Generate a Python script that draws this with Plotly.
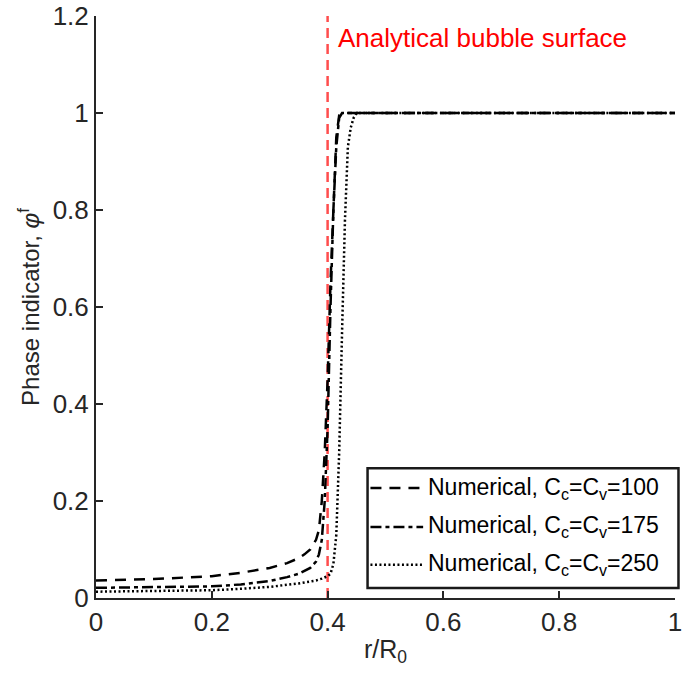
import plotly.graph_objects as go

# Radial profiles of the phase indicator for three C_c = C_v values
r_100 = [0, 0.1, 0.2, 0.25, 0.3, 0.33, 0.35, 0.36, 0.37, 0.38, 0.385, 0.39, 0.395,
         0.40, 0.405, 0.41, 0.415, 0.42, 0.425, 0.45, 0.6, 0.8, 1.0]
phi_100 = [0.036, 0.039, 0.045, 0.052, 0.062, 0.072, 0.082, 0.09, 0.10, 0.12, 0.14,
           0.2, 0.3, 0.45, 0.65, 0.82, 0.95, 0.995, 1.0, 1.0, 1.0, 1.0, 1.0]

r_175 = [0, 0.1, 0.2, 0.25, 0.3, 0.33, 0.35, 0.37, 0.38, 0.385, 0.39, 0.395, 0.40,
         0.405, 0.41, 0.415, 0.42, 0.425, 0.45, 1.0]
phi_175 = [0.021, 0.022, 0.024, 0.028, 0.035, 0.043, 0.05, 0.062, 0.075, 0.09, 0.12,
           0.2, 0.35, 0.6, 0.8, 0.93, 0.99, 1.0, 1.0, 1.0]

r_250 = [0, 0.1, 0.2, 0.25, 0.3, 0.35, 0.38, 0.39, 0.40, 0.405, 0.41, 0.415, 0.42,
         0.425, 0.43, 0.435, 0.44, 0.445, 0.45, 0.46, 1.0]
phi_250 = [0.013, 0.014, 0.016, 0.019, 0.023, 0.03, 0.036, 0.04, 0.045, 0.05, 0.07,
           0.13, 0.3, 0.55, 0.78, 0.93, 0.97, 0.99, 1.0, 1.0, 1.0]

bubble_r = 0.4
series_names = ["Numerical, C<sub>c</sub>=C<sub>v</sub>=100",
                "Numerical, C<sub>c</sub>=C<sub>v</sub>=175",
                "Numerical, C<sub>c</sub>=C<sub>v</sub>=250"]

x_ticks = [0, 0.2, 0.4, 0.6, 0.8, 1]
x_labels = ["0", "0.2", "0.4", "0.6", "0.8", "1"]
y_ticks = [0, 0.2, 0.4, 0.6, 0.8, 1, 1.2]
y_labels = ["0", "0.2", "0.4", "0.6", "0.8", "1", "1.2"]

FONT = "Liberation Sans, Arial, sans-serif"
AX = "#262626"
dash_styles = ["11px,8px", "11px,4px,4px,4px", "2px,2.5px"]

fig = go.Figure()

fig.add_trace(go.Scatter(x=[bubble_r, bubble_r], y=[0, 1.2], mode="lines",
                         line=dict(color="#ff4d4d", width=2.5, dash="10px,6px"),
                         showlegend=False, hoverinfo="skip"))

for rr, pp, name, dash in zip([r_100, r_175, r_250], [phi_100, phi_175, phi_250],
                              series_names, dash_styles):
    fig.add_trace(go.Scatter(x=rr, y=pp, mode="lines", name=name, showlegend=False,
                             line=dict(color="black", width=2.5, dash=dash)))

fig.add_annotation(x=0.414, y=1.155, xref="x", yref="y", xanchor="left",
                   yanchor="middle", text="Analytical bubble surface",
                   showarrow=False, font=dict(family=FONT, size=26, color="#ff0000"))

# Boxed key in the lower right corner (paper coordinates)
box = dict(x0=0.469, x1=1.006, y0=0.017, y1=0.223)
fig.add_shape(type="rect", xref="paper", yref="paper", **box,
              line=dict(color="#1a1a1a", width=2.5), fillcolor="white", layer="above")
row_y = [0.189, 0.122, 0.057]
for yy, name, dash in zip(row_y, series_names, dash_styles):
    fig.add_shape(type="line", xref="paper", yref="paper", x0=0.474, x1=0.565,
                  y0=yy, y1=yy, line=dict(color="black", width=2.5, dash=dash),
                  layer="above")
    fig.add_annotation(x=0.570, y=yy, xref="paper", yref="paper", xanchor="left",
                       yanchor="middle", text=name, showarrow=False,
                       font=dict(family=FONT, size=23, color="black"))

fig.update_layout(
    width=683, height=682,
    margin=dict(l=96, r=8, t=16, b=84, autoexpand=False),
    plot_bgcolor="white", paper_bgcolor="white",
    font=dict(family=FONT, color=AX, size=25),
    showlegend=False,
)

fig.update_xaxes(range=[0, 1], tickvals=x_ticks, ticktext=x_labels,
                 showline=True, linecolor=AX, linewidth=2, mirror=False,
                 ticks="inside", ticklen=7, tickwidth=2, tickcolor=AX,
                 showgrid=False, zeroline=False, ticklabeloverflow="allow",
                 tickfont=dict(size=26, family=FONT, color=AX),
                 title=dict(text="r/R<sub>0</sub>", font=dict(size=25, family=FONT, color=AX),
                            standoff=4))
fig.update_yaxes(range=[0, 1.2], tickvals=y_ticks, ticktext=y_labels,
                 showline=True, linecolor=AX, linewidth=2, mirror=False,
                 ticks="inside", ticklen=7, tickwidth=2, tickcolor=AX,
                 showgrid=False, zeroline=False, ticklabeloverflow="allow",
                 tickfont=dict(size=26, family=FONT, color=AX),
                 title=dict(text="Phase indicator, <i>φ</i><sup>f</sup>",
                            font=dict(size=24, family=FONT, color=AX), standoff=6))

fig.write_html("out.html")
